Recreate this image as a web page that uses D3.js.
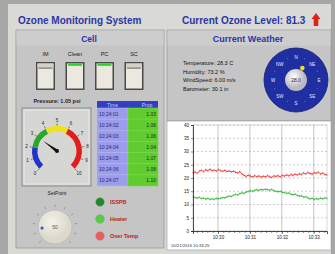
<!DOCTYPE html>
<html><head><meta charset="utf-8">
<script src="https://cdn.jsdelivr.net/npm/d3@7"></script>
<style>
body{margin:0;background:#a6a6a6;}
svg{display:block;font-family:"Liberation Sans",Arial,sans-serif;}
</style>
</head><body><svg id="c" width="335" height="254"></svg>
<script>
// ---------- data ----------
const titleText = "Ozone Monitoring System";
const ozoneLevelText = "Current Ozone Level: 81.3";
const switchLabels = ["IM", "Clean", "PC", "SC"];
const switchStates = [false, true, true, false];
const pressureText = "Pressure: 1.05 psi";
const gaugeTicks = [0,1,2,3,4,5,6,7,8,9,10];
const gaugeBandFrom = [0, 2, 4, 6];
const gaugeBandTo = [2, 4, 6, 10];
const gaugeValue = 3.0;
const tableHeader = ["Time", "Prop"];
const tableTimes = ["10:24:01","10:24:02","10:24:03","10:24:04","10:24:05","10:24:06","10:24:07"];
const tableValues = [1.03, 1.06, 1.06, 1.04, 1.07, 1.08, 1.10];
const setPointLabel = "SetPoint";
const setPointValue = 50;
const setPointRange = [0, 100];
const ledLabels = ["ISSPB", "Heater", "Over Temp"];
const weatherLines = ["Temperature: 28.3 C", "Humidity: 73.2 %", "WindSpeed: 6.00 m/s", "Barometer: 30.1 in"];
const compassDirs = ["N","NE","E","SE","S","SW","W","NW"];
const windDirection = 28;
const compassCenterText = "28.0";
const yTicks = [0,5,10,15,20,25,30,35,40];
const sampleSeconds = 4;
const redSeries = [22.0,22.3,21.8,22.6,22.9,22.4,23.1,22.8,23.3,22.7,
  23.0,22.6,23.2,22.8,22.5,22.9,22.4,22.7,22.3,22.6,
  22.2,21.9,22.4,21.5,21.0,20.6,21.1,20.7,20.4,20.9,
  20.5,20.8,20.3,20.7,20.4,20.9,20.5,20.2,20.8,20.6,
  20.9,20.4,21.0,20.7,21.2,20.8,21.3,21.0,21.5,21.1,
  21.6,21.3,21.9,21.5,22.1,21.7,21.4,22.0,21.8,22.2,
  21.5,21.9,21.3,21.2];
const greenSeries = [12.9,12.6,12.4,12.7,12.2,12.4,12.0,12.3,11.9,12.1,
  12.0,12.3,12.1,12.4,12.6,12.5,12.9,13.2,13.0,13.5,
  13.8,13.6,14.1,14.4,14.2,14.7,14.9,15.2,15.0,15.4,
  15.6,15.3,15.7,15.5,15.8,15.6,15.4,15.7,15.2,15.0,
  14.8,15.0,14.6,14.5,14.2,14.4,13.9,13.7,13.9,13.4,
  13.2,13.3,12.8,12.9,12.5,12.1,12.3,11.9,12.2,12.0,
  12.4,12.1,12.5,12.3];
const chartStart = new Date(2016, 9, 21, 10, 29, 13);
const chartFooter = "10/21/2016 10:33:25";

// ---------- drawing ----------
const svg = d3.select("#c");
const blue = "#2a35a8";
const defs = svg.append("defs");

// panels
svg.append("rect").attr("x",8).attr("y",4).attr("width",323).attr("height",250).attr("fill","#d9d9d5");
svg.append("rect").attr("x",16).attr("y",30).attr("width",148).attr("height",218).attr("fill","#c5c5c5")
  .attr("stroke","#9a9a9a").attr("stroke-width",0.8);
svg.append("rect").attr("x",16.5).attr("y",30.5).attr("width",147).attr("height",15).attr("fill","#cdcdcd");
svg.append("rect").attr("x",167).attr("y",30).attr("width",164).attr("height",91).attr("fill","#c5c5c5")
  .attr("stroke","#9a9a9a").attr("stroke-width",0.8);
svg.append("rect").attr("x",167.5).attr("y",30.5).attr("width",163).attr("height",15).attr("fill","#cdcdcd");

// title
svg.append("text").attr("x",18).attr("y",24).attr("font-size",10).attr("font-weight","bold").attr("fill",blue).text(titleText);
svg.append("text").attr("x",182).attr("y",24).attr("font-size",10).attr("font-weight","bold").attr("fill",blue).text(ozoneLevelText);
svg.append("path").attr("d","M316,13 L320.5,19 L318.3,19 L318.3,26 L313.7,26 L313.7,19 L311.5,19 Z").attr("fill","#e0201a");

svg.append("text").attr("x",89).attr("y",42).attr("text-anchor","middle").attr("font-size",8.5).attr("font-weight","bold").attr("fill",blue).text("Cell");
svg.append("text").attr("x",248).attr("y",42).attr("text-anchor","middle").attr("font-size",9).attr("font-weight","bold").attr("fill",blue).text("Current Weather");

// switches
const swX = d3.scalePoint().domain(switchLabels).range([45.5, 134]);
switchLabels.forEach((lab,i)=>{
  const cx = swX(lab);
  svg.append("text").attr("x",cx).attr("y",56).attr("text-anchor","middle").attr("font-size",5.5).attr("fill","#222").text(lab);
  const g = svg.append("g");
  g.append("rect").attr("x",cx-9.5).attr("y",62).attr("width",19).attr("height",28).attr("fill","#4a4a4a");
  g.append("rect").attr("x",cx-8).attr("y",63.5).attr("width",16).attr("height",25).attr("fill","#ebe9df");
  if (switchStates[i]) {
    g.append("rect").attr("x",cx-7).attr("y",64).attr("width",14).attr("height",1.8).attr("fill","#2ed02e");
  } else {
    g.append("rect").attr("x",cx-8).attr("y",63.5).attr("width",16).attr("height",4).attr("fill","#d4d2c8");
    g.append("rect").attr("x",cx-7).attr("y",67.5).attr("width",14).attr("height",1.2).attr("fill","#6a7a6a");
  }
});

// gauge
svg.append("text").attr("x",57).attr("y",103).attr("text-anchor","middle").attr("font-size",5.5).attr("font-weight","bold").attr("fill","#222").text(pressureText);
svg.append("rect").attr("x",22).attr("y",108).attr("width",69).attr("height",78).attr("fill","#d0d0ce")
  .attr("stroke","#8a8a8a").attr("stroke-width",1);
svg.append("rect").attr("x",24).attr("y",110).attr("width",65).attr("height",74).attr("fill","#d6d6d4")
  .attr("stroke","#ededeb").attr("stroke-width",0.8);
const gcx = 57, gcy = 151;
const gA = d3.scaleLinear().domain([0,10]).range([-0.75*Math.PI, 0.75*Math.PI]);
const bandColors = ["#2233c8","#2aa82a","#f0e020","#e01e1e"];
const arc = d3.arc().innerRadius(19.5).outerRadius(25);
const gg = svg.append("g").attr("transform",`translate(${gcx},${gcy})`);
gaugeBandFrom.forEach((f,i)=>{
  gg.append("path").attr("d",arc({startAngle:gA(f),endAngle:gA(gaugeBandTo[i])})).attr("fill",bandColors[i]);
});
gaugeTicks.forEach(t=>{
  const a = gA(t);
  gg.append("line").attr("x1",25.5*Math.sin(a)).attr("y1",-25.5*Math.cos(a)).attr("x2",27.5*Math.sin(a)).attr("y2",-27.5*Math.cos(a)).attr("stroke","#333").attr("stroke-width",0.6);
  gg.append("text").attr("x",31*Math.sin(a)).attr("y",-31*Math.cos(a)+1.8).attr("text-anchor","middle").attr("font-size",4.5).attr("fill","#222").text(t);
});
{
  const a = gA(gaugeValue), L = 17;
  const tx = L*Math.sin(a), ty = -L*Math.cos(a);
  const px = 1.6*Math.cos(a), py = 1.6*Math.sin(a);
  gg.append("path").attr("d",`M${px},${py} L${tx},${ty} L${-px},${-py} Z`).attr("fill","#111");
  gg.append("circle").attr("r",2).attr("fill","#111");
}

// table
const tX = 97, tY = 101, tW1 = 31, tW2 = 30, headH = 7;
svg.append("rect").attr("x",tX).attr("y",tY).attr("width",tW1+tW2).attr("height",headH).attr("fill","#3040c0");
svg.append("text").attr("x",tX+tW1/2).attr("y",tY+5.5).attr("text-anchor","middle").attr("font-size",5).attr("fill","#c8ccff").text(tableHeader[0]);
svg.append("text").attr("x",tX+tW1+tW2/2+4).attr("y",tY+5.5).attr("text-anchor","middle").attr("font-size",5).attr("fill","#c8ccff").text(tableHeader[1]);
const rowY = d3.scaleBand().domain(d3.range(tableTimes.length)).range([tY+headH, 186]);
tableTimes.forEach((t,i)=>{
  const y = rowY(i);
  svg.append("rect").attr("x",tX).attr("y",y).attr("width",tW1).attr("height",rowY.bandwidth()).attr("fill","#9c9cec").attr("stroke","#b8b8f4").attr("stroke-width",0.5);
  svg.append("rect").attr("x",tX+tW1).attr("y",y).attr("width",tW2).attr("height",rowY.bandwidth()).attr("fill","#60cc30").attr("stroke","#78dc48").attr("stroke-width",0.5);
  svg.append("text").attr("x",tX+2).attr("y",y+rowY.bandwidth()/2+2).attr("font-size",5).attr("fill","#2a2a70").text(t);
  svg.append("text").attr("x",tX+tW1+tW2-2).attr("y",y+rowY.bandwidth()/2+2).attr("text-anchor","end").attr("font-size",5).attr("fill","#103010").text(tableValues[i].toFixed(2));
});

// setpoint knob
svg.append("text").attr("x",57).attr("y",195).attr("text-anchor","middle").attr("font-size",5).attr("fill","#222").text(setPointLabel);
const kcx = 55, kcy = 227;
const kA = d3.scaleLinear().domain(setPointRange).range([-0.75*Math.PI, 0.75*Math.PI]);
const kg = svg.append("g").attr("transform",`translate(${kcx},${kcy})`);
d3.range(setPointRange[0], setPointRange[1]+1, 10).forEach(v=>{
  const a = kA(v);
  kg.append("line").attr("x1",20*Math.sin(a)).attr("y1",-20*Math.cos(a)).attr("x2",22.5*Math.sin(a)).attr("y2",-22.5*Math.cos(a)).attr("stroke","#777").attr("stroke-width",0.6);
});
const kgrad = defs.append("radialGradient").attr("id","kg").attr("cx","40%").attr("cy","35%");
kgrad.append("stop").attr("offset","0%").attr("stop-color","#f4f2ea");
kgrad.append("stop").attr("offset","100%").attr("stop-color","#dcd9cc");
kg.append("circle").attr("r",17).attr("fill","url(#kg)").attr("stroke","#b0aea4").attr("stroke-width",0.6);
{
  const a = kA(setPointValue*0.3);
  kg.append("circle").attr("cx",13*Math.sin(a)).attr("cy",-13*Math.cos(a)).attr("r",1.6).attr("fill","#4050d0");
}
kg.append("text").attr("y",2).attr("text-anchor","middle").attr("font-size",5).attr("fill","#555").text(setPointValue);

// LEDs
const ledColors = ["#1f8a2a","#52d040","#ee5a5a"];
const ledY = d3.scalePoint().domain(ledLabels).range([202, 236]);
ledLabels.forEach((l,i)=>{
  svg.append("circle").attr("cx",100).attr("cy",ledY(l)).attr("r",4.3).attr("fill",ledColors[i]).attr("stroke","#888").attr("stroke-width",0.4);
  svg.append("text").attr("x",110).attr("y",ledY(l)+2).attr("font-size",5.5).attr("font-weight","bold").attr("fill","#c02020").text(l);
});

// weather text
weatherLines.forEach((t,i)=>{
  svg.append("text").attr("x",183).attr("y",65+i*8.5).attr("font-size",5.5).attr("fill","#111").text(t);
});

// compass
const ccx = 296, ccy = 80;
const cg = svg.append("g").attr("transform",`translate(${ccx},${ccy})`);
cg.append("circle").attr("r",32).attr("fill","#1f2ea0").attr("stroke","#14207a").attr("stroke-width",0.8);
const dirA = d3.scalePoint().domain(compassDirs.concat(["_"])).range([0, 2*Math.PI]);
compassDirs.forEach(d=>{
  const a = dirA(d);
  cg.append("text").attr("x",23*Math.sin(a)).attr("y",-23*Math.cos(a)+1.8).attr("text-anchor","middle").attr("font-size",4.5).attr("fill","#e8e8ff").text(d);
  const a2 = a + Math.PI/8;
  cg.append("circle").attr("cx",23*Math.sin(a2)).attr("cy",-23*Math.cos(a2)).attr("r",0.5).attr("fill","#8090e0");
});
const cgrad = defs.append("radialGradient").attr("id","cgr").attr("cx","40%").attr("cy","35%");
cgrad.append("stop").attr("offset","0%").attr("stop-color","#ffffff");
cgrad.append("stop").attr("offset","100%").attr("stop-color","#b8b8c0");
cg.append("circle").attr("r",11).attr("fill","url(#cgr)");
cg.append("text").attr("y",1.8).attr("text-anchor","middle").attr("font-size",5).attr("fill","#222").text(compassCenterText);
{
  const a = windDirection*Math.PI/180;
  cg.append("circle").attr("cx",13.5*Math.sin(a)).attr("cy",-13.5*Math.cos(a)).attr("r",2.3).attr("fill","#f0e020");
}

// chart
svg.append("rect").attr("x",167).attr("y",121).attr("width",164).attr("height",129).attr("fill","#ffffff").attr("stroke","#9a9a9a").attr("stroke-width",0.6);
const x = d3.scaleTime().domain([chartStart, new Date(+chartStart + (redSeries.length-1)*sampleSeconds*1000)]).range([193, 327]);
const y = d3.scaleLinear().domain([0,40]).range([231, 125]);
const plot = svg.append("g");
plot.selectAll(".hg").data(yTicks).join("line").attr("x1",193).attr("x2",327).attr("y1",d=>y(d)).attr("y2",d=>y(d))
  .attr("stroke","#b0b0b0").attr("stroke-width",0.6).attr("stroke-dasharray","2,2");
const minutes = x.ticks(d3.timeMinute.every(1));
plot.selectAll(".vg").data(minutes).join("line").attr("x1",d=>x(d)).attr("x2",d=>x(d)).attr("y1",125).attr("y2",231)
  .attr("stroke","#a0a0a0").attr("stroke-width",0.6);
plot.append("rect").attr("x",193).attr("y",125).attr("width",134).attr("height",106).attr("fill","none").attr("stroke","#c0c0c0").attr("stroke-width",0.6);
const yAxis = d3.axisLeft(y).tickValues(yTicks).tickSize(2).tickPadding(2);
const ya = svg.append("g").attr("transform","translate(193,0)").call(yAxis);
const xAxis = d3.axisBottom(x).ticks(d3.timeSecond.every(10)).tickSize(2).tickFormat("");
const xa = svg.append("g").attr("transform","translate(0,231)").call(xAxis);
const xAxis2 = d3.axisBottom(x).ticks(d3.timeMinute.every(1)).tickSize(3).tickPadding(2).tickFormat(d3.timeFormat("%H:%M"));
const xa2 = svg.append("g").attr("transform","translate(0,231)").call(xAxis2);
[ya,xa,xa2].forEach(a=>{
  a.selectAll("path").attr("stroke","#222").attr("stroke-width",0.8);
  a.selectAll("line").attr("stroke","#222").attr("stroke-width",0.5);
  a.selectAll("text").attr("font-size",4.5).attr("fill","#222").attr("font-family","Liberation Sans, Arial");
});
xa.select("path").remove();
const tAt = i => x(new Date(+chartStart + i*sampleSeconds*1000));
const line = d3.line().x((d,i)=>tAt(i)).y(d=>y(d));
plot.append("path").datum(redSeries).attr("d",line).attr("fill","none").attr("stroke","#e83030").attr("stroke-width",0.9);
plot.append("path").datum(greenSeries).attr("d",line).attr("fill","none").attr("stroke","#30b030").attr("stroke-width",0.9);
plot.selectAll(".rm").data(redSeries).join("line")
  .attr("x1",(d,i)=>tAt(i)).attr("x2",(d,i)=>tAt(i))
  .attr("y1",d=>y(d)-1.2).attr("y2",d=>y(d)+1.2).attr("stroke","#e83030").attr("stroke-width",0.5);
plot.selectAll(".gm").data(greenSeries).join("line")
  .attr("x1",(d,i)=>tAt(i)).attr("x2",(d,i)=>tAt(i))
  .attr("y1",d=>y(d)-1.2).attr("y2",d=>y(d)+1.2).attr("stroke","#30b030").attr("stroke-width",0.5);
svg.append("text").attr("x",171).attr("y",247).attr("font-size",4.2).attr("fill","#333").text(chartFooter);
</script>
</body></html>
